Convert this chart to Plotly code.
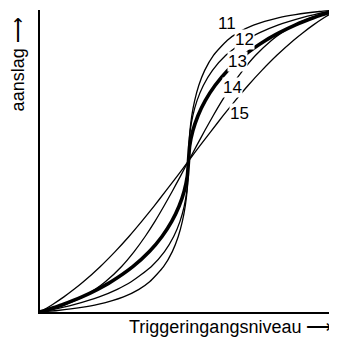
import plotly.graph_objects as go

# aanslag levels (0-100) shared by all curves
aanslag = [0, 0.5, 1.5, 2.5, 5, 7.5, 10, 15, 20, 25, 30, 35, 40, 45,
           50, 55, 60, 65, 70, 75, 80, 85, 90, 92.5, 95, 97.5, 98.5, 99.5, 100]

# triggeringangsniveau (0-100) of each curve at those levels
curve_11 = [0, 5.87, 13.98, 19.48, 28.11, 33.32, 36.91, 41.6, 44.55, 46.55, 47.93, 48.89, 49.52, 49.88,
            50, 50.12, 50.48, 51.11, 52.07, 53.45, 55.45, 58.4, 63.09, 66.68, 71.89, 80.52, 86.02, 94.13, 100]
curve_12 = [0, 2.74, 7.58, 11.73, 19.93, 26.01, 30.71, 37.44, 41.93, 45.01, 47.13, 48.54, 49.43, 49.88,
            50, 50.12, 50.57, 51.46, 52.87, 54.99, 58.07, 62.56, 69.29, 73.99, 80.07, 88.27, 92.42, 97.26, 100]
curve_13 = [0, 1.65, 4.76, 7.73, 14.12, 19.4, 23.96, 31.25, 36.83, 41.08, 44.36, 46.81, 48.54, 49.61,
            50, 50.39, 51.46, 53.19, 55.64, 58.92, 63.17, 68.75, 76.04, 80.6, 85.88, 92.27, 95.24, 98.35, 100]
curve_14 = [0, 2.2, 5.8, 8.75, 14.4, 18.6, 22.0, 27.4, 31.7, 35.4, 38.7, 41.7, 44.55, 47.3,
            50, 52.7, 55.45, 58.3, 61.3, 64.6, 68.3, 72.6, 78.0, 81.4, 85.6, 91.25, 94.2, 97.8, 100]
curve_15 = [0, 0.9, 2.6, 4.25, 8.05, 11.45, 14.6, 20.25, 25.3, 29.95, 34.25, 38.35, 42.3, 46.2,
            50, 53.8, 57.7, 61.65, 65.75, 70.05, 74.7, 79.75, 85.4, 88.55, 91.95, 95.75, 97.4, 99.1, 100]

curve_names = ["11", "12", "13", "14", "15"]
curves = [curve_11, curve_12, curve_13, curve_14, curve_15]
widths = [1.3, 1.3, 3.6, 1.3, 1.3]

# label anchor positions (data coords)
label_x = [63.0, 68.7, 66.5, 64.8, 67.3]
label_y = [95.4, 90.1, 83.0, 74.3, 65.7]

FONT = "Liberation Sans, Arial, Helvetica, sans-serif"

fig = go.Figure()
for name, xs, w in zip(curve_names, curves, widths):
    fig.add_trace(go.Scatter(x=xs, y=aanslag, mode="lines", name=name,
                             line=dict(color="black", width=w, shape="spline", smoothing=0.6),
                             cliponaxis=False, showlegend=False, hoverinfo="skip"))

for name, lx, ly in zip(curve_names, label_x, label_y):
    fig.add_annotation(x=lx, y=ly, text=name, showarrow=False, xref="x", yref="y",
                       font=dict(family=FONT, size=17, color="black"),
                       bgcolor="white", borderpad=0)

fig.add_annotation(x=0.64, y=-0.05, xref="paper", yref="paper", xanchor="center", yanchor="middle",
                   text="Triggeringangsniveau ⟶", showarrow=False,
                   font=dict(family=FONT, size=18, color="black"))
fig.add_annotation(x=-0.074, y=0.82, xref="paper", yref="paper", xanchor="center", yanchor="middle",
                   text="aanslag ⟶", textangle=-90, showarrow=False,
                   font=dict(family=FONT, size=18, color="black"))

axis_common = dict(range=[0, 100], showline=True, linecolor="black", linewidth=2,
                   showgrid=False, zeroline=False, ticks="", showticklabels=False, mirror=False)
fig.update_xaxes(**axis_common)
fig.update_yaxes(**axis_common)
# page body adds an 8px margin, so the figure is sized/offset to keep the plot area
# at the reference position within the 337x344 window
fig.update_layout(width=329, height=336, margin=dict(l=32, r=0, t=2, b=32),
                  paper_bgcolor="white", plot_bgcolor="white")

fig.write_html("out.html")
